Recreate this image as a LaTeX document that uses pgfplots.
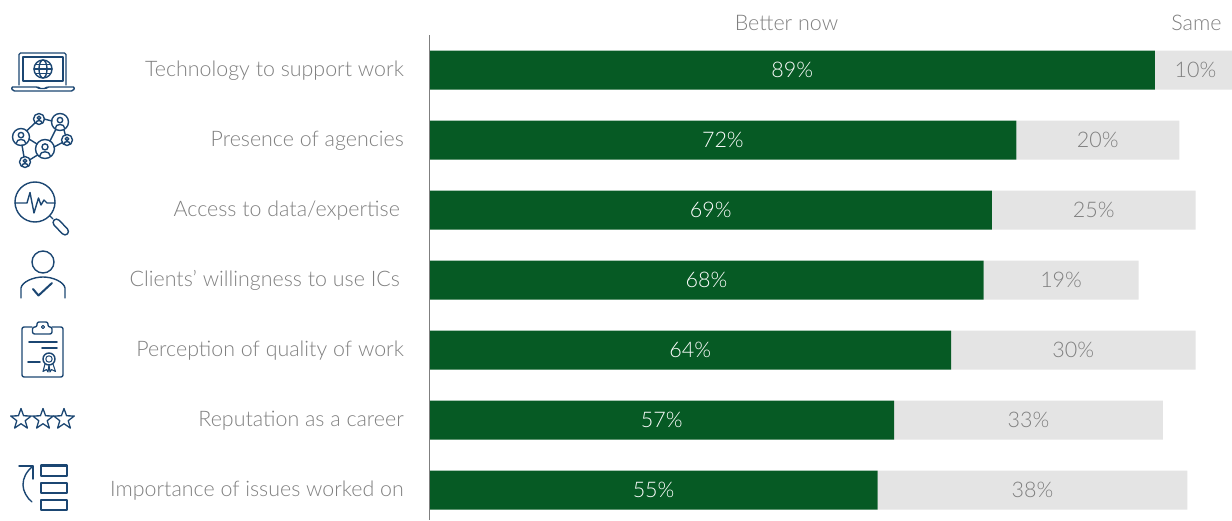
\documentclass[border=0pt]{standalone}
\usepackage{fontspec}
\setmainfont{Lato Light}
\usepackage{pgfplots}
\usepackage{pgfplotstable}
\pgfplotsset{compat=1.18}
\pgfkeys{/pgf/number format/assume math mode=true}
\definecolor{barGreen}{HTML}{065A24}
\definecolor{barGrey}{HTML}{E4E4E4}
\definecolor{txtGrey}{HTML}{7F7F7F}
\definecolor{iconBlue}{HTML}{1B4672}

\pgfplotstableread{
row better same
0 89 10
1 72 20
2 69 25
3 68 19
4 64 30
5 57 33
6 55 38
}\ratings

% small person glyph used by the network icon
\newcommand{\netnode}[3]{%
  \draw (#1,#2) circle (#3);
  \draw (#1,#2-0.22*#3) circle (0.32*#3);
  \draw (#1-0.55*#3,#2+0.72*#3) .. controls (#1-0.55*#3,#2+0.15*#3) and (#1+0.55*#3,#2+0.15*#3) .. (#1+0.55*#3,#2+0.72*#3);
}

\begin{document}
\begin{tikzpicture}[x=1pt,y=1pt]
\useasboundingbox (0,0) rectangle (1232,520);

\begin{axis}[
  at={(429.5pt,0pt)}, anchor=south west,
  scale only axis, width=802.5pt, height=485pt,
  xbar stacked, bar width=39pt,
  xmin=0, xmax=98.47,
  ymin=-0.5, ymax=6.4286, y dir=reverse,
  axis y line=left, axis x line=none,
  axis line style={draw=txtGrey, line width=1.5pt, -},
  ytick={0,...,6},
  yticklabels={Technology to support work,Presence of agencies,Access to data/expertise\hspace*{4pt},Clients’ willingness to use ICs\hspace*{4pt},Perception of quality of work,Reputation as a career,Importance of issues worked on},
  typeset ticklabels with strut,
  yticklabel style={font=\fontsize{21.4}{26}\selectfont, text=txtGrey, inner sep=0pt, xshift=-25.5pt, yshift=-1pt},
  major tick length=0pt, tick style={draw=none},
  axis on top,
  clip=false,
  nodes near coords style={anchor=center, font=\fontsize{21.5}{26}\selectfont},
]
\addplot[fill=barGreen, draw=none,
  visualization depends on={\thisrow{better}\as\len},
  nodes near coords={\pgfmathprintnumber{\len}\%},
  every node near coord/.append style={text=white},
] table[x=better,y=row]{\ratings};
\addplot[fill=barGrey, draw=none,
  visualization depends on={\thisrow{same}\as\len},
  nodes near coords={\pgfmathprintnumber{\len}\%},
  every node near coord/.append style={text=txtGrey},
] table[x=same,y=row]{\ratings};
\end{axis}

\node[text=txtGrey, font=\fontsize{21.5}{25}\selectfont] at (786.5,497) {Better now};
\node[text=txtGrey, font=\fontsize{21.5}{25}\selectfont] at (1196.5,497) {Same};

% icons, laid out from the top left corner
\begin{scope}[yscale=-1, yshift=-520pt, draw=iconBlue, line width=1.4pt, line join=round, line cap=round]
  % laptop
  \draw[rounded corners=1.5pt] (19,85) -- (19,53) -- (66,53) -- (66,85);
  \draw (23,57) rectangle (63,81);
  \draw[rounded corners=1.5pt] (11,87) -- (38,87) -- (39,88.5) -- (46,88.5) -- (47,87) -- (75,87) -- (73,91) -- (13,91) -- cycle;
  \draw (43,69) circle (9);
  \draw (43,69) ellipse (4 and 9);
  \draw (34,69) -- (52,69) (35.5,64.5) -- (50.5,64.5) (35.5,73.5) -- (50.5,73.5);
  % network
  \draw (44,119) -- (52,121);
  \draw (35.5,122.5) -- (26.5,131);
  \draw (56,129) -- (50,141);
  \draw (64,130) -- (65.5,135.5);
  \draw (29,139) -- (37,144);
  \draw (22,145) -- (24,157);
  \draw (54,147) -- (62.5,142.5);
  \draw (29.5,160) -- (37.5,155);
  \netnode{39}{119}{5.5}
  \netnode{60}{122}{8.5}
  \netnode{21}{137}{8.5}
  \netnode{67}{140}{5.5}
  \netnode{45}{149}{9.5}
  \netnode{25}{162}{5.5}
  % magnifier
  \draw (35,202) circle (20);
  \draw (15,203) -- (27,203) -- (30,192.5) -- (34,213) -- (38.5,198) -- (41,205) -- (44,200) -- (47,203) -- (55,203);
  \draw (50,216) -- (53,219);
  \draw[rounded corners=3.8pt] (51.5,222.5) -- (56.5,217.5) -- (70,231.5) -- (65,236.5) -- cycle;
  % person with check mark
  \draw (43,262) circle (11);
  \draw (21,298) -- (21,288) .. controls (22,282) and (33,277) .. (43,277) .. controls (53,277) and (64,282) .. (65,288) -- (65,298);
  \draw[line width=2pt] (33,289) -- (38.5,295.5) -- (52,283);
  % clipboard with rosette
  \draw[rounded corners=2pt] (32,327) -- (22,327) -- (22,377) -- (63,377) -- (63,327) -- (52,327);
  \draw[rounded corners=2pt] (32.5,334) -- (32.5,327) -- (37,327) -- (37,322) -- (48,322) -- (48,327) -- (52,327) -- (52,334) -- cycle;
  \draw[line width=1pt] (43,327) circle (1.6);
  \draw[line width=1.7pt] (29,342) -- (57,342) (42,348) -- (57,348) (28,362) -- (40,362);
  \draw (49,359) circle (6);
  \draw[line width=1pt] (49,359) circle (3.2);
  \draw[line width=1.1pt] (45,364) -- (43,371.5) -- (46.5,369.5) -- (48,372) -- (49,365) -- (50,372) -- (51.5,369.5) -- (55.5,371.5) -- (53,364);
  % three stars
  \foreach \cx in {21,43,64} {
    \draw[line width=1.3pt] (\cx,408.5) -- ++(2.6,7.3) -- ++(7.7,0.2) -- ++(-6.1,4.7) -- ++(2.2,7.4) -- ++(-6.4,-4.4) -- ++(-6.4,4.4) -- ++(2.2,-7.4) -- ++(-6.1,-4.7) -- ++(7.7,-0.2) -- cycle;
  }
  % ranked list with arrow
  \draw[line width=2.6pt, line cap=butt] (41,465.5) rectangle (67,476);
  \draw (41,483) rectangle (67,493);
  \draw (41,500) rectangle (67,510);
  \draw (19,466) -- (33,466) -- (33,479);
  \draw (33,466) .. controls (26,472) and (23,478) .. (23,485) .. controls (23,491) and (27,498) .. (32,502);
\end{scope}
\end{tikzpicture}
\end{document}
